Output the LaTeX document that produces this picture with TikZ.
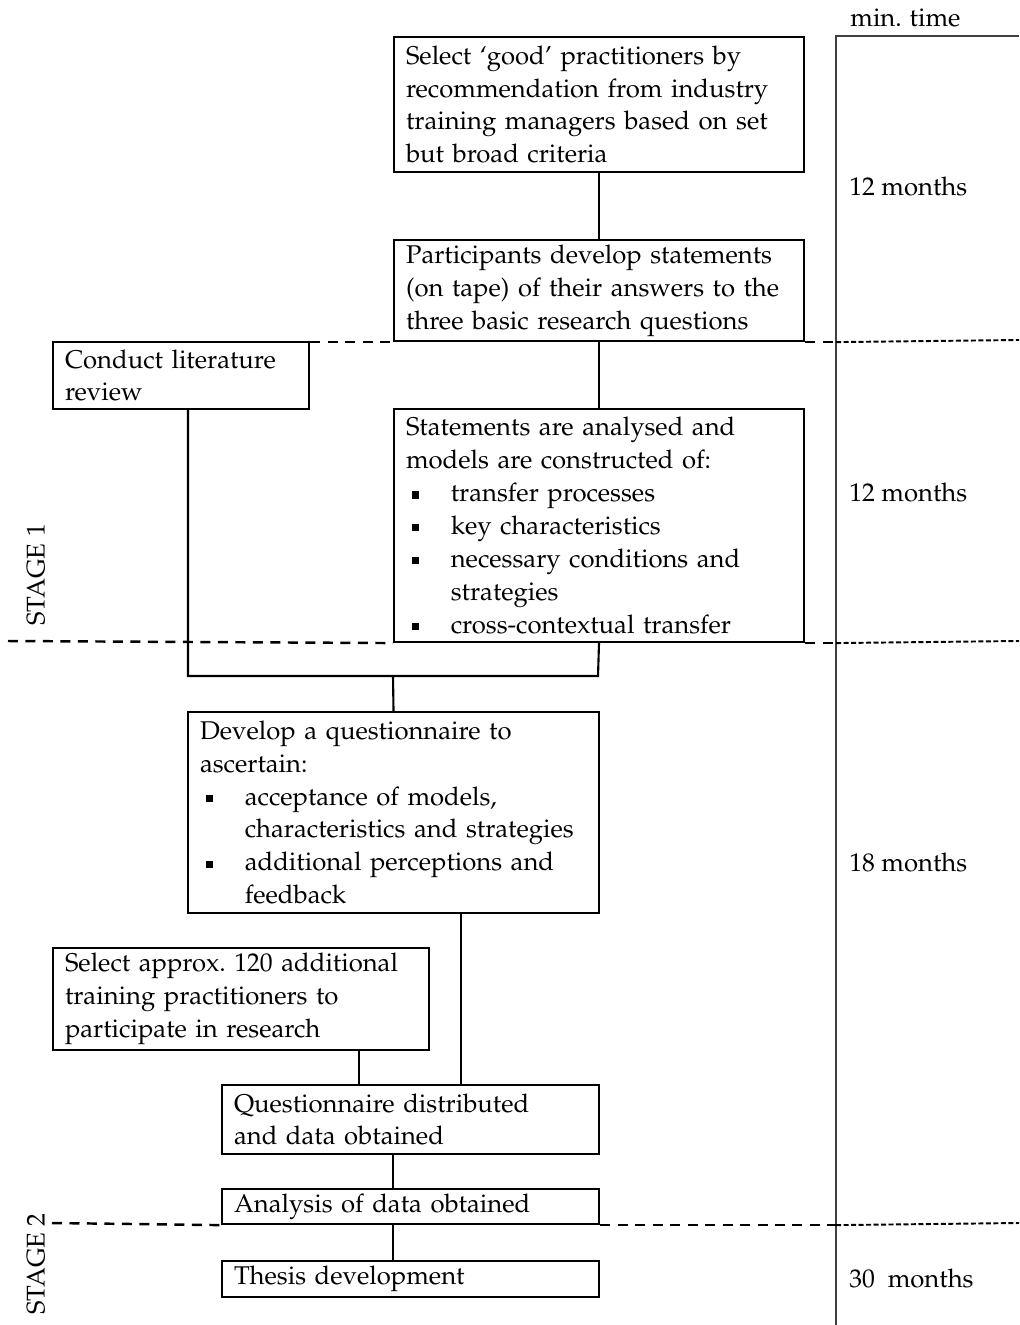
\documentclass[tikz,border=0pt]{standalone}
\usepackage[T1]{fontenc}
\usepackage{mathpazo}
\newcommand{\bitem}{\makebox[25.5pt][l]{\hspace{3.5pt}\rule[1.8pt]{4pt}{4pt}}}
\newcommand{\bcont}{\hspace*{25.5pt}}
\begin{document}
\begin{tikzpicture}[x=0.02cm,y=-0.02cm,
  txt/.style={font=\fontsize{14.6}{18.7}\selectfont},
  box/.style={draw, line width=1.2pt, anchor=north west, align=left,
    inner xsep=6.8pt, inner ysep=0pt, txt},
  conn/.style={line width=1.2pt},
  dsh/.style={line width=1.4pt, dash pattern=on 0.2cm off 0.15cm},
  dshr/.style={line width=1.1pt, dash pattern=on 0.1cm off 0.05cm},
  tlabel/.style={anchor=west, txt, inner sep=0pt}]
\useasboundingbox (0,0) rectangle (1019,1325);

% boxes
\node[box, minimum width=8.2cm, text width=8.2cm-13.6pt, minimum height=2.7cm] (b1) at (393,36)
 {Select `good' practitioners by\\recommendation from industry\\training managers based on set\\but broad criteria};
\node[box, minimum width=8.2cm, text width=8.2cm-13.6pt, minimum height=2.02cm] (b2) at (393,239)
 {Participants develop statements\\(on tape) of their answers to the\\three basic research questions};
\node[box, minimum width=5.12cm, text width=5.12cm-13.6pt, minimum height=1.34cm] (lit) at (52,341)
 {Conduct literature\\review};
\node[box, minimum width=8.2cm, text width=8.2cm-13.6pt, minimum height=4.66cm] (st) at (393,408)
 {Statements are analysed and\\models are constructed of:\\
  \bitem transfer processes\\
  \bitem key characteristics\\
  \bitem necessary conditions and\\\bcont strategies\\
  \bitem cross-contextual transfer};
\node[box, minimum width=8.22cm, text width=8.22cm-13.6pt, minimum height=4.02cm] (dev) at (187,711)
 {Develop a questionnaire to\\ascertain:\\
  \bitem acceptance of models,\\\bcont characteristics and strategies\\
  \bitem additional perceptions and\\\bcont feedback};
\node[box, minimum width=7.52cm, text width=7.52cm-13.6pt, minimum height=2.04cm] (sel) at (52,947)
 {Select approx.\ 120 additional\\training practitioners to\\participate in research};
\node[box, minimum width=7.54cm, text width=7.54cm-13.6pt, minimum height=1.38cm] (dist) at (221,1084)
 {Questionnaire distributed\\and data obtained};
\node[box, minimum width=7.54cm, text width=7.54cm-13.6pt, minimum height=0.7cm] (an) at (221,1188)
 {Analysis of data obtained};
\node[box, minimum width=7.54cm, text width=7.54cm-13.6pt, minimum height=0.72cm] (th) at (221,1260)
 {Thesis development};

% junction coordinates
\coordinate (jl) at (188,676);
\coordinate (jr) at (598,676);
\coordinate (jm) at (393,676);
\coordinate (c1) at (461,1000);
\coordinate (c2) at (359,1000);
\coordinate (c3) at (393,1200);

% connectors
\draw[conn] (b1.south) -- (b2.north);
\draw[conn] (b2.south) -- (st.north);
\draw[conn] (lit.south -| jl) -- (jl) -- (jr) -- (st.south);
\draw[conn] (jm) -- (dev.north);
\draw[conn] (dev.south -| c1) -- (dist.north -| c1);
\draw[conn] (sel.south -| c2) -- (dist.north -| c2);
\draw[conn] (dist.south -| c3) -- (an.north -| c3);
\draw[conn] (an.south -| c3) -- (th.north -| c3);

% time column
\coordinate (tc) at (836,36);
\coordinate (tb) at (836,1325);
\coordinate (te) at (1019,36);
\draw[line width=0.6pt, black!75] (tb) -- (tc) -- (te);

% stage dashed lines
\coordinate (d1r) at (1019,340);
\coordinate (d2l) at (8,641);
\coordinate (d2r) at (1019,641);
\coordinate (d3l) at (52,1223);
\coordinate (d3r) at (1019,1223);
\draw[dsh] (b2.south west -| lit.north east) -- (b2.south west);
\draw[dsh] (b2.south east) -- (b2.south east -| tc);
\draw[dshr] (b2.south east -| tc) -- (d1r);
\draw[dsh] (d2l) -- (st.south west);
\draw[dsh] (st.south east) -- (st.south east -| tc);
\draw[dshr] (st.south east -| tc) -- (d2r);
\draw[dsh] (d3l) -- (an.south west);
\draw[dsh] (an.south east) -- (an.south east -| tc);
\draw[dshr] (an.south east -| tc) -- (d3r);

% labels
\node[tlabel] (mt) at (850,18) {min. time};
\node[tlabel] (t1) at (849,186) {12 months};
\node[tlabel] (t2) at (849,492) {12 months};
\node[tlabel] (t3) at (849,862) {18 months};
\node[tlabel] (t4) at (849,1278) {30\ \ months};
\node[txt, rotate=90, inner sep=0pt] (s1) at (36,575) {STAGE 1};
\node[txt, rotate=90, inner sep=0pt] (s2) at (36,1264) {STAGE 2};
\end{tikzpicture}
\end{document}
